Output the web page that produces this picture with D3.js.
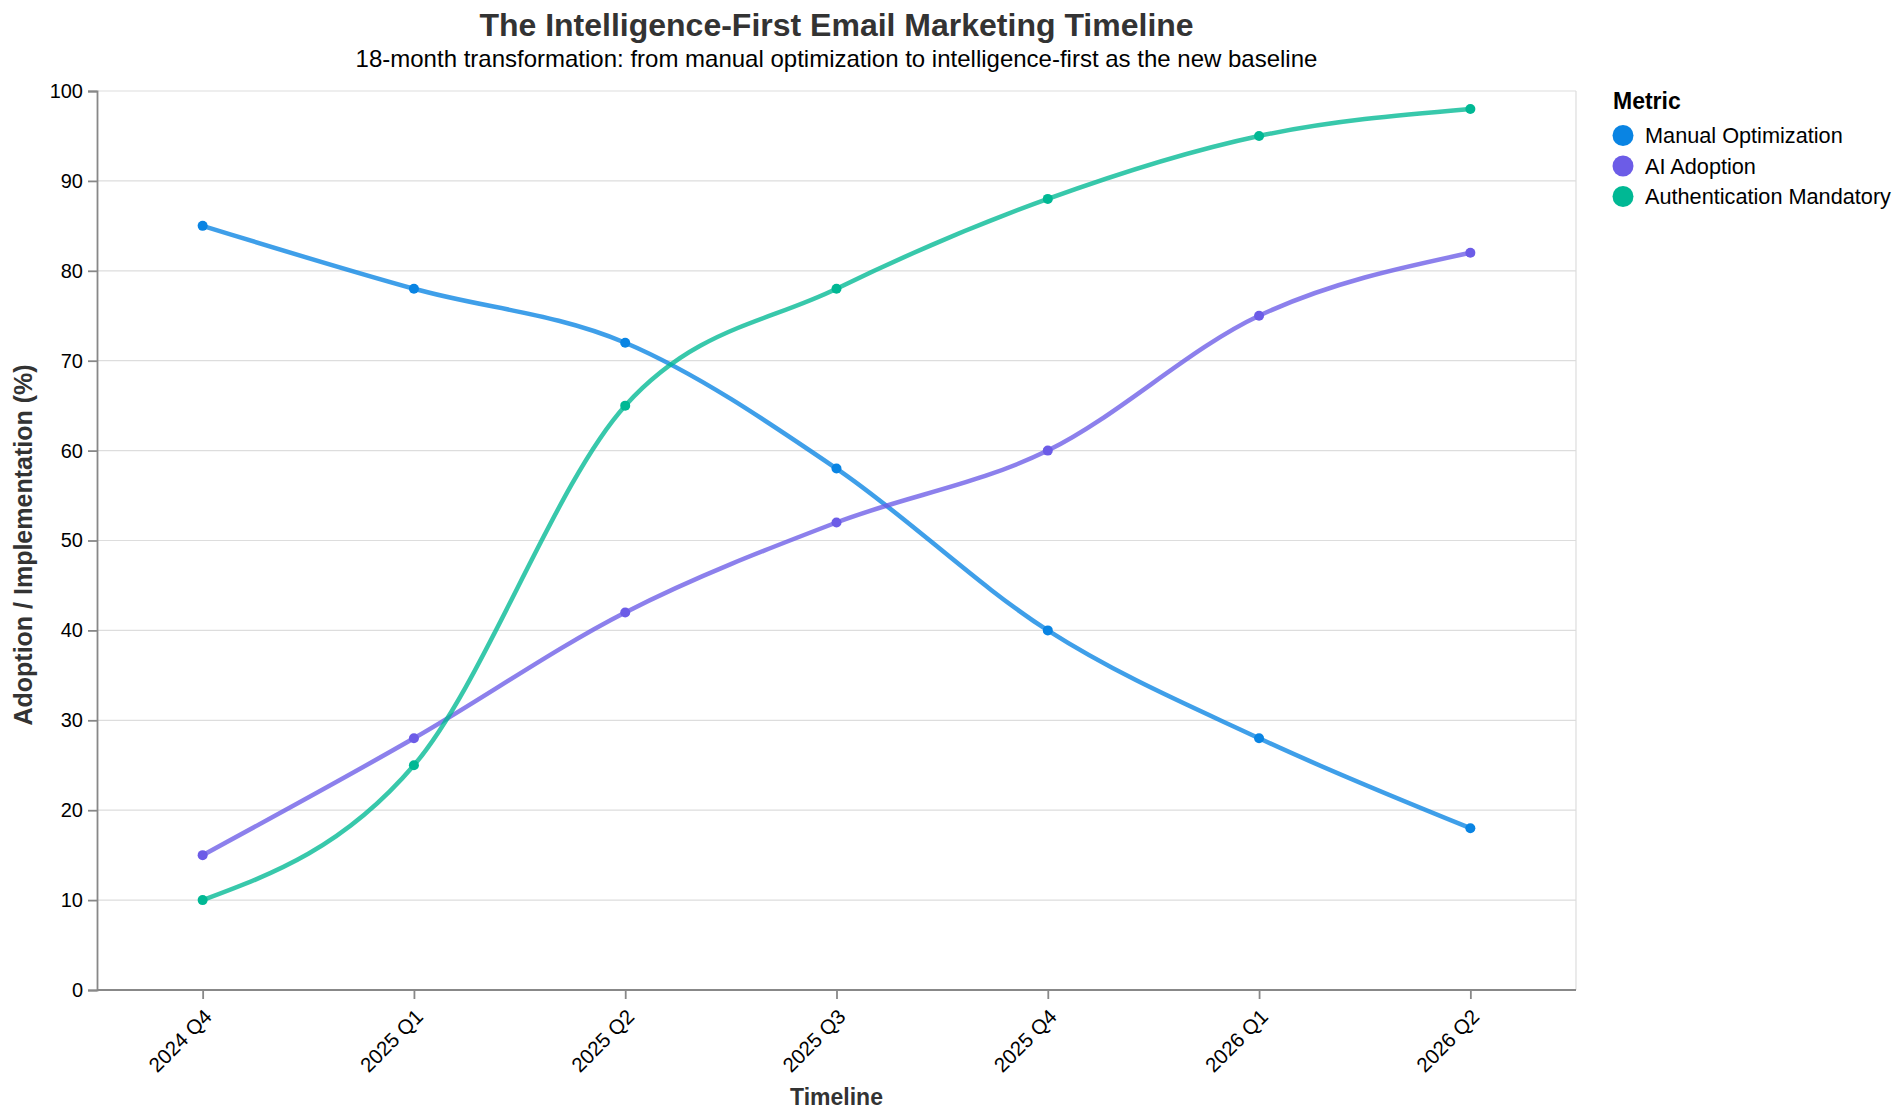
<!DOCTYPE html>
<html>
<head>
<meta charset="utf-8">
<script src="https://cdn.jsdelivr.net/npm/d3@7"></script>
<style>
  html, body { margin: 0; padding: 0; background: #fff; }
  svg { display: block; font-family: "Liberation Sans", Arial, Helvetica, sans-serif; }
</style>
</head>
<body>
<svg id="chart" width="1904" height="1120"></svg>
<script>
const quarters = ["2024 Q4", "2025 Q1", "2025 Q2", "2025 Q3", "2025 Q4", "2026 Q1", "2026 Q2"];
const seriesNames = ["Manual Optimization", "AI Adoption", "Authentication Mandatory"];
const seriesColors = ["#0984e3", "#6c5ce7", "#00b894"];
const manualValues = [85, 78, 72, 58, 40, 28, 18];
const aiValues = [15, 28, 42, 52, 60, 75, 82];
const authValues = [10, 25, 65, 78, 88, 95, 98];
const yTicks = [0, 10, 20, 30, 40, 50, 60, 70, 80, 90, 100];

const titleText = "The Intelligence-First Email Marketing Timeline";
const subtitleText = "18-month transformation: from manual optimization to intelligence-first as the new baseline";
const xTitle = "Timeline";
const yTitle = "Adoption / Implementation (%)";
const legendTitle = "Metric";

const series = [manualValues, aiValues, authValues].map((vals, i) => ({
  name: seriesNames[i], color: seriesColors[i],
  points: quarters.map((q, j) => ({ q, v: vals[j] }))
}));

const svg = d3.select("#chart");
const M = { left: 97, right: 1576, top: 91, bottom: 990 };

const x = d3.scalePoint().domain(quarters).range([M.left, M.right]).padding(0.5);
const y = d3.scaleLinear().domain([0, 100]).range([M.bottom, M.top]);

// grid
svg.append("g").selectAll("line").data(yTicks).join("line")
  .attr("x1", M.left).attr("x2", M.right)
  .attr("y1", d => y(d)).attr("y2", d => y(d))
  .attr("stroke", "#ddd").attr("stroke-width", 1.2);

// view border (right side)
svg.append("line").attr("x1", M.right).attr("x2", M.right)
  .attr("y1", M.top).attr("y2", M.bottom)
  .attr("stroke", "#ddd").attr("stroke-width", 1.2);

// y axis
const yAxis = svg.append("g").attr("transform", `translate(${M.left},0)`)
  .call(d3.axisLeft(y).tickValues(yTicks).tickSize(9).tickPadding(5));
yAxis.select(".domain").attr("stroke", "#888").attr("stroke-width", 1.8);
yAxis.selectAll(".tick line").attr("stroke", "#888").attr("stroke-width", 1.8);
yAxis.selectAll(".tick text").attr("font-size", 20).attr("fill", "#000")
  .attr("font-family", "Liberation Sans, Arial, sans-serif");

// x axis
const xAxis = svg.append("g").attr("transform", `translate(0,${M.bottom})`)
  .call(d3.axisBottom(x).tickSize(9).tickPadding(5));
xAxis.select(".domain").attr("stroke", "#888").attr("stroke-width", 1.8)
  .attr("d", `M${M.left},0H${M.right}`);
xAxis.selectAll(".tick line").attr("stroke", "#888").attr("stroke-width", 1.8);
xAxis.selectAll(".tick text")
  .attr("font-size", 20.5).attr("fill", "#000")
  .attr("font-family", "Liberation Sans, Arial, sans-serif")
  .attr("text-anchor", "end")
  .attr("dy", null)
  .attr("y", null)
  .attr("dominant-baseline", "middle")
  .attr("transform", "translate(6,24) rotate(-45)");

// lines
const line = d3.line().x(d => x(d.q)).y(d => y(d.v)).curve(d3.curveMonotoneX);
const sg = svg.append("g").selectAll("g").data(series).join("g");
sg.append("path").attr("d", d => line(d.points))
  .attr("fill", "none").attr("stroke", d => d.color)
  .attr("stroke-opacity", 0.78).attr("stroke-width", 4.5)
  .attr("stroke-linecap", "round");
sg.selectAll("circle").data(d => d.points.map(p => ({ ...p, color: d.color }))).join("circle")
  .attr("cx", d => x(d.q)).attr("cy", d => y(d.v)).attr("r", 5)
  .attr("fill", d => d.color);

// titles
svg.append("text").attr("x", (M.left + M.right) / 2).attr("y", 36)
  .attr("text-anchor", "middle").attr("font-size", 32).attr("font-weight", "bold")
  .attr("fill", "#333").text(titleText);
svg.append("text").attr("x", (M.left + M.right) / 2).attr("y", 67)
  .attr("text-anchor", "middle").attr("font-size", 24)
  .attr("fill", "#000").text(subtitleText);

svg.append("text").attr("x", (M.left + M.right) / 2).attr("y", 1105)
  .attr("text-anchor", "middle").attr("font-size", 23).attr("font-weight", "bold")
  .attr("fill", "#333").text(xTitle);
svg.append("text").attr("transform", `translate(32,545) rotate(-90)`)
  .attr("text-anchor", "middle").attr("font-size", 25).attr("font-weight", "bold")
  .attr("fill", "#333").text(yTitle);

// legend
const lg = svg.append("g");
lg.append("text").attr("x", 1613).attr("y", 109).attr("font-size", 23)
  .attr("font-weight", "bold").attr("fill", "#000").text(legendTitle);
const rows = lg.selectAll("g.row").data(series).join("g").attr("class", "row")
  .attr("transform", (d, i) => `translate(1623,${135.5 + i * 30.5})`);
rows.append("circle").attr("r", 10.5).attr("fill", d => d.color);
rows.append("text").attr("x", 22).attr("dy", "0.35em").attr("font-size", 21.7)
  .attr("fill", "#000").text(d => d.name);
</script>
</body>
</html>
